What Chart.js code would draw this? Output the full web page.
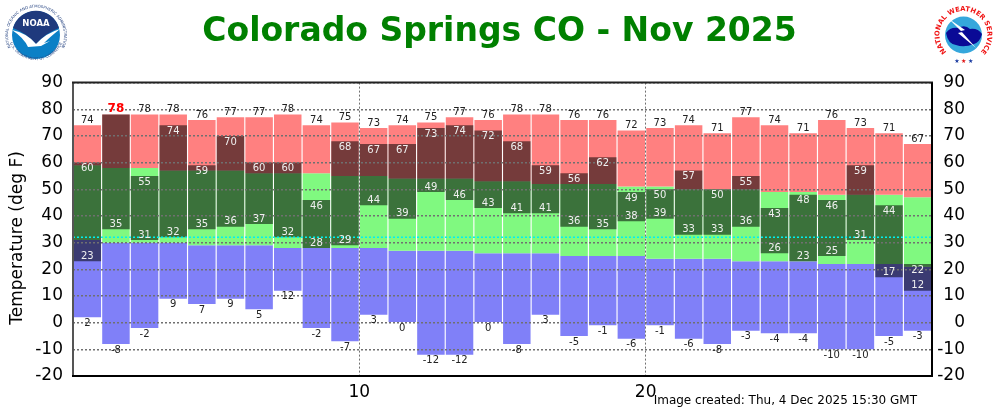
<!DOCTYPE html>
<html>
<head>
<meta charset="utf-8">
<title>Colorado Springs CO - Nov 2025</title>
<script src="https://cdn.jsdelivr.net/npm/chart.js@4"></script>
<style>
  html, body { margin: 0; padding: 0; background: #fff; }
  #wrap { position: relative; width: 1000px; height: 412px; overflow: hidden; }
  #chart { position: absolute; left: 0; top: 0; }
  .logo { position: absolute; top: 0; }
</style>
</head>
<body>
<div id="wrap">
  <canvas id="chart" width="1000" height="412"></canvas>

  <!-- NOAA logo -->
  <svg class="logo" style="left:0" width="72" height="70" viewBox="0 0 72 70">
    <defs>
      <path id="noaaTop" d="M 10.5 47 A 28 28 0 1 1 61.5 47"/>
      <path id="noaaBot" d="M 8 37 A 28.5 28.5 0 0 0 64 37"/>
    </defs>
    <circle cx="36" cy="35" r="24" fill="#0b80c6"/>
    <path d="M 13 28 A 24 24 0 0 1 59 28 Q 46 33 36 44 Q 26 33 13 28 Z" fill="#1f3a7d"/>
    <path d="M 12 30 Q 27 33 36 44 Q 46 33 60 29 Q 50 37 44 43 L 50 41 L 41 46 L 28 47 Q 24 38 12 30 Z" fill="#fff"/>
    <text x="36" y="26" text-anchor="middle" font-family="DejaVu Sans" font-weight="bold" font-size="8.5" fill="#fff">NOAA</text>
    <text font-family="DejaVu Sans" font-size="3.9" fill="#2d4a86"><textPath href="#noaaTop" startOffset="50%" text-anchor="middle">NATIONAL OCEANIC AND ATMOSPHERIC ADMINISTRATION</textPath></text>
    <text font-family="DejaVu Sans" font-size="3.9" fill="#2d4a86"><textPath href="#noaaBot" startOffset="50%" text-anchor="middle">U.S. DEPARTMENT OF COMMERCE</textPath></text>
  </svg>

  <!-- NWS logo -->
  <svg class="logo" style="left:920px" width="80" height="70" viewBox="0 0 80 70">
    <defs>
      <path id="nwsRing" d="M 31.5 55.8 A 24 24 0 1 1 55.5 55.8"/>
    </defs>
    <circle cx="43.5" cy="35" r="18.5" fill="#35a7dc"/>
    <path d="M 26 33 Q 30 27 38 28 Q 45 24 50 29 Q 58 28 62 34 Q 60 42 54 44 Q 44 48 36 45 Q 28 44 26 33 Z" fill="#0a0a96"/>
    <path d="M 29 19 L 45 30 L 41 31 L 56 48 L 38 33 L 42 32 Z" fill="#fff"/>
    <text font-family="DejaVu Sans" font-weight="bold" font-size="6.8" fill="#f01414"><textPath href="#nwsRing" startOffset="50%" text-anchor="middle">NATIONAL WEATHER SERVICE</textPath></text>
    <text x="44.5" y="63" text-anchor="middle" font-family="DejaVu Sans" font-size="6" letter-spacing="1.5"><tspan fill="#1a3aa0">★</tspan><tspan fill="#e01414">★</tspan><tspan fill="#1a3aa0">★</tspan></text>
  </svg>
</div>

<script>
// Values (deg F), one entry per day of November
const days = [1,2,3,4,5,6,7,8,9,10,11,12,13,14,15,16,17,18,19,20,21,22,23,24,25,26,27,28,29,30];
const obsHigh = [60,78,55,74,59,70,60,60,46,68,67,67,73,74,72,68,59,56,62,49,50,57,50,55,43,48,46,59,44,22];
const obsLow = [23,35,31,32,35,36,37,32,28,29,44,39,49,46,43,41,41,36,35,38,39,33,33,36,26,23,25,31,17,12];
const recordHigh = [74,78,78,78,76,77,77,78,74,75,73,74,75,77,76,78,78,76,76,72,73,74,71,77,74,71,76,73,71,67];
const recordLow = [2,-8,-2,9,7,9,5,12,-2,-7,3,0,-12,-12,0,-8,3,-5,-1,-6,-1,-6,-8,-3,-4,-4,-10,-10,-5,-3];
const normalHigh = [59,58,58,57,57,57,56,56,56,55,55,54,54,54,53,53,52,52,52,51,51,50,50,50,49,49,48,48,48,47];
const normalLow = [31,30,30,30,29,29,29,28,28,28,28,27,27,27,26,26,26,25,25,25,24,24,24,23,23,23,22,22,22,21];
const freezing = 32;
const brokenRecordDay = 2;

const FONT = '"DejaVu Sans"';
const GRID = '#707070';

// floating bar from lo to hi for each day
function span(lo, hi) {
    return days.map((d, i) => ({ x: d - 0.5, y: [lo[i], hi[i]] }));
}

function barSet(label, lo, hi, color, order) {
    return {
        label: label,
        data: span(lo, hi),
        backgroundColor: color,
        borderWidth: 0,
        barPercentage: 1,
        categoryPercentage: 0.96,
        grouped: false,
        order: order
    };
}

// Value labels, plot frame and the texts that are not on an axis
const textPlugin = {
    id: 'textPlugin',
    afterDraw(chart) {
        const { ctx, chartArea: area, scales: { x, y } } = chart;
        ctx.save();

        const side = (x1, y1, x2, y2, color) => {
            ctx.strokeStyle = color;
            ctx.lineWidth = 2;
            ctx.beginPath();
            ctx.moveTo(x1, y1);
            ctx.lineTo(x2, y2);
            ctx.stroke();
        };
        side(area.left, area.top, area.left, area.bottom, '#555');
        side(area.left - 1, area.top, area.right + 1, area.top, '#222');
        side(area.right, area.top, area.right, area.bottom, '#000');
        side(area.left - 1, area.bottom, area.right + 1, area.bottom, '#000');

        ctx.textAlign = 'center';
        ctx.textBaseline = 'middle';
        ctx.font = '10px ' + FONT;
        days.forEach((d, i) => {
            const px = x.getPixelForValue(d - 0.5);
            ctx.fillStyle = '#f0f0f0';
            if (d !== brokenRecordDay) {
                ctx.fillText(obsHigh[i], px, y.getPixelForValue(obsHigh[i]) + 6);
            }
            ctx.fillText(obsLow[i], px, y.getPixelForValue(obsLow[i]) - 5);
            ctx.fillStyle = '#222';
            ctx.fillText(recordLow[i], px, y.getPixelForValue(recordLow[i]) + 6);
            if (d === brokenRecordDay) {
                ctx.fillStyle = '#ff0000';
                ctx.font = 'bold 12px ' + FONT;
                ctx.fillText(recordHigh[i], px, y.getPixelForValue(recordHigh[i]) - 6);
                ctx.font = '10px ' + FONT;
            } else {
                ctx.fillText(recordHigh[i], px, y.getPixelForValue(recordHigh[i]) - 5);
            }
        });

        ctx.fillStyle = '#000';
        ctx.font = '12px ' + FONT;
        ctx.textAlign = 'right';
        ctx.fillText('Image created: Thu, 4 Dec 2025 15:30 GMT', 917, 401);

        ctx.font = '17px ' + FONT;
        ctx.textAlign = 'center';
        ctx.translate(18, 238);
        ctx.rotate(-Math.PI / 2);
        ctx.fillText('Temperature (deg F)', 0, 0);
        ctx.restore();
    }
};

const ctx = document.getElementById('chart').getContext('2d');
new Chart(ctx, {
    type: 'bar',
    data: {
        datasets: [
            {
                type: 'line',
                label: 'Freezing',
                data: [{ x: 0, y: freezing }, { x: days.length, y: freezing }],
                borderColor: '#00f0f0',
                borderWidth: 1.5,
                borderDash: [2, 2],
                pointRadius: 0,
                order: 1
            },
            barSet('Observed', obsLow, obsHigh, 'rgba(0,0,0,0.54)', 2),
            barSet('Record high', normalHigh, recordHigh, '#ff8080', 3),
            barSet('Normal', normalLow, normalHigh, '#80f980', 3),
            barSet('Record low', recordLow, normalLow, '#8080f8', 3)
        ]
    },
    plugins: [textPlugin],
    options: {
        responsive: false,
        animation: false,
        layout: { padding: { left: 34, right: 35 } },
        plugins: {
            legend: { display: false },
            tooltip: { enabled: false },
            title: {
                display: true,
                text: 'Colorado Springs CO - Nov 2025',
                color: '#008000',
                font: { family: FONT, size: 33, weight: 'bold', lineHeight: 1.2 },
                padding: { top: 13, bottom: 30 }
            }
        },
        scales: {
            x: {
                type: 'linear',
                min: 0,
                max: days.length,
                offset: false,
                afterFit(s) { s.height = 36; },
                ticks: {
                    stepSize: 10,
                    maxRotation: 0,
                    color: '#000',
                    padding: 6,
                    font: { family: FONT, size: 17 },
                    callback: v => (v > 0 && v < days.length ? v : '')
                },
                grid: {
                    z: 1,
                    offset: false,
                    drawTicks: false,
                    lineWidth: 1,
                    color: c => (c.tick && c.tick.value > 0 && c.tick.value < days.length ? GRID : 'rgba(0,0,0,0)')
                },
                border: { display: false, dash: [2, 2] }
            },
            y: {
                min: -20,
                max: 90,
                position: 'left',
                afterFit(s) { s.width = 39; },
                ticks: {
                    stepSize: 10,
                    color: '#000',
                    padding: 10,
                    font: { family: FONT, size: 17 }
                },
                grid: { z: 1, drawTicks: false, lineWidth: 1.5, color: GRID },
                border: { display: false, dash: [2, 2] }
            },
            y2: {
                min: -20,
                max: 90,
                position: 'right',
                afterFit(s) { s.width = 33; },
                ticks: {
                    stepSize: 10,
                    color: '#000',
                    padding: 6,
                    crossAlign: 'far',
                    font: { family: FONT, size: 17 }
                },
                grid: { display: false },
                border: { display: false }
            }
        }
    }
});
</script>
</body>
</html>
